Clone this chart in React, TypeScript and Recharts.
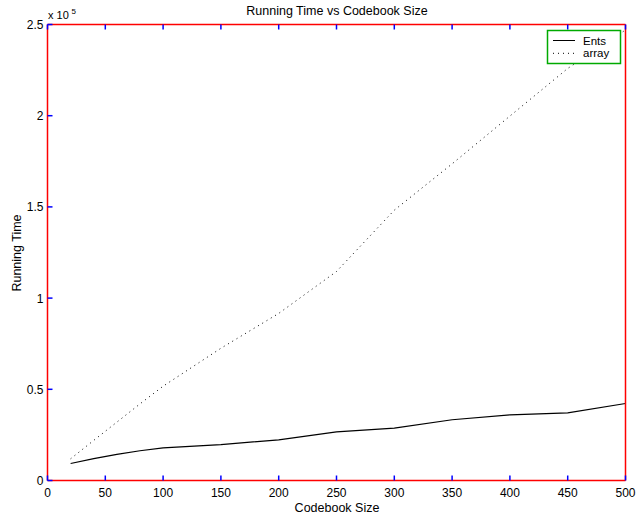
import React from 'react';
import { LineChart, Line, XAxis, YAxis } from 'recharts';

const codebookSizes = [20, 40, 60, 80, 100, 150, 200, 250, 300, 350, 400, 450, 500];
const entsTimes = [9300, 12000, 14300, 16300, 17900, 19700, 22300, 26700, 28700, 33300, 36000, 37100, 42200];
const arrayTimes = [11900, 22000, 32000, 42000, 51700, 72500, 91600, 114600, 148200, 173600, 199800, 225900, 247000];
const xTicks = [0, 50, 100, 150, 200, 250, 300, 350, 400, 450, 500];
const yTicks = [0, 50000, 100000, 150000, 200000, 250000];
const yTickLabels = ['0', '0.5', '1', '1.5', '2', '2.5'];
const seriesNames = ['Ents', 'array'];

const data = codebookSizes.map((s, i) => ({ size: s, Ents: entsTimes[i], array: arrayTimes[i] }));

const FONT = '"Liberation Sans", Arial, Helvetica, sans-serif';
const TICK = 5;
const AX = { stroke: '#f00', strokeWidth: 1.5 };

const BottomTick = (p: any) => (
  <g>
    <line x1={p.x} y1={p.y} x2={p.x} y2={p.y - TICK} stroke="#00f" strokeWidth={1.5} />
    <text x={p.x} y={p.y + 16} textAnchor="middle" fontSize={12} fontFamily={FONT} fill="#000" stroke="none">
      {p.payload.value}
    </text>
  </g>
);
const TopTick = (p: any) => (
  <line x1={p.x} y1={p.y} x2={p.x} y2={p.y + TICK} stroke="#00f" strokeWidth={1.5} />
);
const LeftTick = (p: any) => {
  const idx = yTicks.indexOf(p.payload.value);
  return (
    <g>
      <line x1={p.x} y1={p.y} x2={p.x + TICK} y2={p.y} stroke="#00f" strokeWidth={1.5} />
      <text x={p.x - 4} y={p.y + 4.5} textAnchor="end" fontSize={12} fontFamily={FONT} fill="#000" stroke="none">
        {yTickLabels[idx]}
      </text>
    </g>
  );
};
const RightTick = (p: any) => (
  <line x1={p.x} y1={p.y} x2={p.x - TICK} y2={p.y} stroke="#00f" strokeWidth={1.5} />
);

const dashes: Record<string, string | undefined> = { Ents: undefined, array: '1 4' };

export default function App() {
  return (
    <div style={{ position: 'absolute', left: 0, top: 0, width: 636, height: 516, background: '#fff' }}>
      <LineChart width={636} height={516} data={data} margin={{ top: 23.5, right: 0, bottom: 0, left: 0 }}>
        <XAxis xAxisId="b" dataKey="size" type="number" domain={[0, 500]} ticks={xTicks} interval={0} height={35.5}
          tickSize={0} tickMargin={0} tickLine={false} axisLine={AX} tick={BottomTick} />
        <XAxis xAxisId="t" orientation="top" dataKey="size" type="number" domain={[0, 500]} ticks={xTicks} interval={0} height={1}
          tickSize={0} tickMargin={0} tickLine={false} axisLine={AX} tick={TopTick} />
        <YAxis yAxisId="l" type="number" domain={[0, 250000]} ticks={yTicks} interval={0} width={47.5}
          tickSize={0} tickMargin={0} tickLine={false} axisLine={AX} tick={LeftTick} />
        <YAxis yAxisId="r" orientation="right" type="number" domain={[0, 250000]} ticks={yTicks} interval={0} width={10.5}
          tickSize={0} tickMargin={0} tickLine={false} axisLine={AX} tick={RightTick} />
        <Line xAxisId="b" yAxisId="l" type="linear" dataKey="Ents" stroke="#000" strokeWidth={1.2} dot={false} isAnimationActive={false} />
        <Line xAxisId="b" yAxisId="l" type="linear" dataKey="array" stroke="#000" strokeWidth={1} strokeDasharray="1 4" dot={false} isAnimationActive={false} />
      </LineChart>
      <svg width={636} height={516} style={{ position: 'absolute', left: 0, top: 0, pointerEvents: 'none' }}>
        <g fontFamily={FONT} fill="#000">
          <text x={337} y={15} textAnchor="middle" fontSize={12.5}>Running Time vs Codebook Size</text>
          <text x={48} y={19} fontSize={11}>x 10</text>
          <text x={71.5} y={14} fontSize={8}>5</text>
          <text x={337} y={512} textAnchor="middle" fontSize={12.5}>Codebook Size</text>
          <text x={21} y={253} textAnchor="middle" fontSize={12.5} transform="rotate(-90 21 253)">Running Time</text>
        </g>
        <g transform="translate(547.5 30.5)">
          <rect x={0} y={0} width={73} height={33} fill="#fff" stroke="#0a0" strokeWidth={1.5} />
          {seriesNames.map((name, i) => (
            <g key={name} transform={`translate(0 ${10 + i * 12.8})`}>
              <line x1={5.5} y1={0} x2={27.5} y2={0} stroke="#000" strokeWidth={1} strokeDasharray={dashes[name]} />
              <text x={35.5} y={4} fontSize={11.5} fontFamily={FONT} fill="#000">{name}</text>
            </g>
          ))}
        </g>
      </svg>
    </div>
  );
}
